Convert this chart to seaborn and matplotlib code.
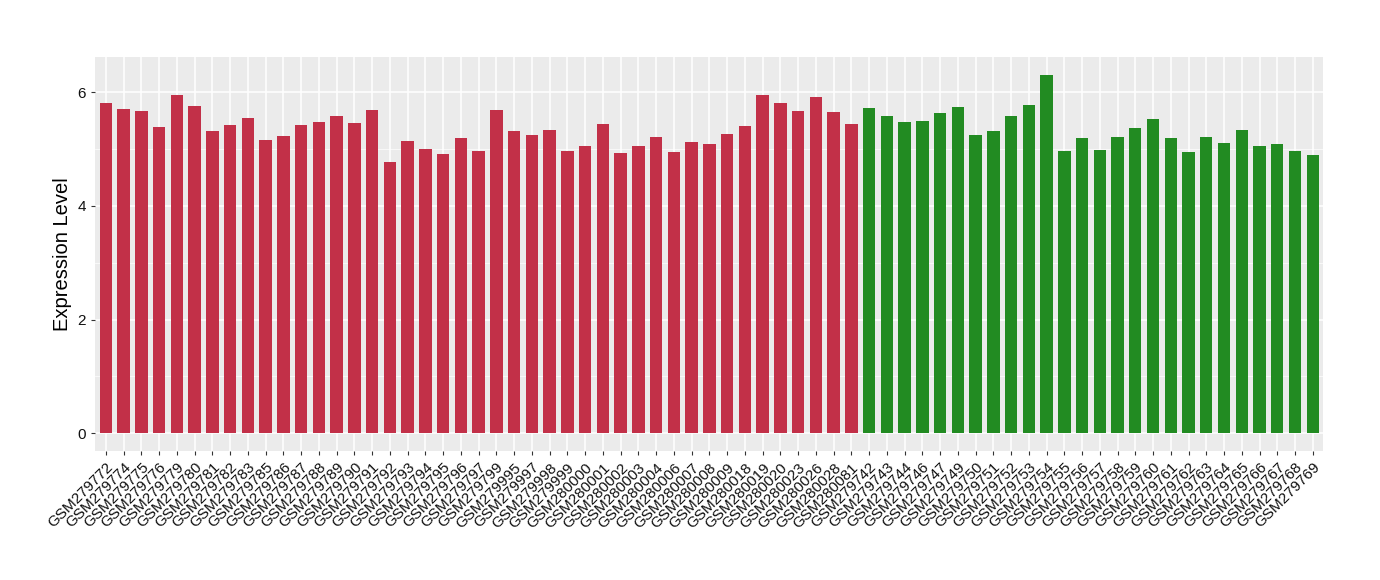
import matplotlib
matplotlib.use("Agg")
import matplotlib.pyplot as plt
import pandas as pd
import seaborn as sns

# %%
samples_a = [
    "GSM279772", "GSM279774", "GSM279775", "GSM279776", "GSM279779", "GSM279780",
    "GSM279781", "GSM279782", "GSM279783", "GSM279785", "GSM279786", "GSM279787",
    "GSM279788", "GSM279789", "GSM279790", "GSM279791", "GSM279792", "GSM279793",
    "GSM279794", "GSM279795", "GSM279796", "GSM279797", "GSM279799", "GSM279995",
    "GSM279997", "GSM279998", "GSM279999", "GSM280000", "GSM280001", "GSM280002",
    "GSM280003", "GSM280004", "GSM280006", "GSM280007", "GSM280008", "GSM280009",
    "GSM280018", "GSM280019", "GSM280020", "GSM280023", "GSM280026", "GSM280028",
    "GSM280081",
]
values_a = [
    5.81, 5.70, 5.67, 5.39, 5.95, 5.76, 5.32, 5.42, 5.55, 5.16, 5.23, 5.42,
    5.48, 5.58, 5.46, 5.69, 4.77, 5.14, 5.00, 4.91, 5.19, 4.96, 5.69, 5.32,
    5.25, 5.33, 4.96, 5.05, 5.44, 4.93, 5.05, 5.21, 4.95, 5.12, 5.09, 5.26,
    5.40, 5.95, 5.81, 5.67, 5.92, 5.65, 5.44,
]
samples_b = [
    "GSM279742", "GSM279743", "GSM279744", "GSM279746", "GSM279747", "GSM279749",
    "GSM279750", "GSM279751", "GSM279752", "GSM279753", "GSM279754", "GSM279755",
    "GSM279756", "GSM279757", "GSM279758", "GSM279759", "GSM279760", "GSM279761",
    "GSM279762", "GSM279763", "GSM279764", "GSM279765", "GSM279766", "GSM279767",
    "GSM279768", "GSM279769",
]
values_b = [
    5.72, 5.58, 5.48, 5.49, 5.63, 5.74, 5.25, 5.32, 5.58, 5.77, 6.30, 4.96,
    5.19, 4.98, 5.21, 5.37, 5.53, 5.19, 4.95, 5.21, 5.11, 5.33, 5.05, 5.09,
    4.96, 4.89,
]

df = pd.DataFrame(
    dict(
        sample=samples_a + samples_b,
        value=values_a + values_b,
        group=["a"] * len(samples_a) + ["b"] * len(samples_b),
    )
)

# %%
plt.rcParams["font.family"] = ["Liberation Sans", "DejaVu Sans"]

fig = plt.figure(figsize=(13.8, 5.8), dpi=100)
ax = fig.add_axes([0.069, 0.222, 0.890, 0.680])
ax.set_facecolor("#EBEBEB")

sns.barplot(
    data=df,
    x="sample",
    y="value",
    hue="group",
    palette={"a": "#C23048", "b": "#228B22"},
    saturation=1,
    dodge=False,
    width=0.7,
    legend=False,
    ax=ax,
)

ax.set_axisbelow(True)
ax.set_yticks([0, 2, 4, 6])
ax.set_yticks([1, 3, 5], minor=True)
ax.grid(True, which="major", color="white", linewidth=1.1)
ax.grid(True, which="minor", axis="y", color="white", linewidth=0.5)
ax.set_ylim(-0.317, 6.62)
ax.set_xlim(-0.6, len(df) - 0.4)
for s in ax.spines.values():
    s.set_visible(False)

ax.tick_params(axis="both", which="major", length=3, color="#333333", labelsize=11,
               labelcolor="#111111")
ax.tick_params(axis="y", which="minor", length=0)
plt.setp(ax.get_xticklabels(), rotation=45, ha="right", rotation_mode="anchor")
ax.set_xlabel("")
ax.set_ylabel("Expression Level", fontsize=14.5)

fig.savefig("out.png", dpi=100)
plt.close(fig)
